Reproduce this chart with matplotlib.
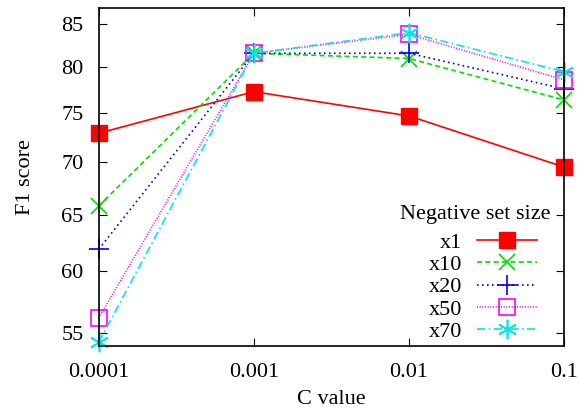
import numpy as np
import matplotlib.pyplot as plt

plt.rcParams['font.family'] = ['Liberation Serif', 'DejaVu Serif']

# data
c_values = [0.0001, 0.001, 0.01, 0.1]
x1 = [72.9, 77.3, 74.7, 69.5]
x10 = [65.8, 81.6, 81.0, 76.4]
x20 = [61.9, 81.6, 81.6, 77.6]
x50 = [56.2, 81.6, 83.8, 78.6]
x70 = [54.3, 81.6, 84.0, 79.5]
series_labels = ['x1', 'x10', 'x20', 'x50', 'x70']
y_ticks = [55, 60, 65, 70, 75, 80, 85]
x_ticks = [0.0001, 0.001, 0.01, 0.1]
x_tick_labels = ['0.0001', '0.001', '0.01', '0.1']

fig = plt.figure(figsize=(5.81, 4.12), dpi=100)
ax = fig.add_axes([0.170, 0.160, 0.801, 0.821])

styles = [
    dict(color='#ff0000', ls='-', marker='s', mfc='#ff0000', ms=12),
    dict(color='#00dd00', ls=(0, (3, 2)), marker='x', ms=12, mew=1.2),
    dict(color='#0000ff', ls=(0, (1, 2)), marker='+', ms=14, mew=1.2),
    dict(color='#ff00ff', ls=(0, (0.6, 1)), marker='s', mfc='none', ms=12, mew=1.2),
    dict(color='#00e5ee', ls=(0, (5, 2, 1, 2)), marker=(6, 2, 0), ms=14, mew=1.2),
]
for vals, lab, st in zip([x1, x10, x20, x50, x70], series_labels, styles):
    ax.plot(c_values, vals, label=lab, lw=1.2, clip_on=False, **st)

ax.set_xscale('log')
ax.set_yscale('log')
ax.set_xlim(0.0001, 0.1)
ax.set_ylim(54, 87)
ax.set_xticks(x_ticks)
ax.set_xticklabels(x_tick_labels)
ax.set_yticks(y_ticks)
ax.set_yticklabels([str(v) for v in y_ticks])
ax.minorticks_off()
ax.tick_params(direction='in', top=True, right=True, labelsize=16, length=6)
ax.tick_params(axis='x', pad=12)
ax.tick_params(axis='y', pad=11)
for s in ax.spines.values():
    s.set_linewidth(1.2)

ax.set_xlabel('C value', fontsize=16, labelpad=6)
ax.set_ylabel('F1 score', fontsize=16, labelpad=19)

leg = ax.legend(loc='lower right', bbox_to_anchor=(537 / 581, 1 - 342 / 412),
                bbox_transform=fig.transFigure, frameon=False, markerfirst=False,
                fontsize=16, handlelength=2.7, handletextpad=0.68,
                labelspacing=0.08, borderaxespad=0, borderpad=0)
fig.text(550 / 581, 1 - 215 / 412, 'Negative set size', fontsize=16,
         ha='right', va='center')

fig.savefig('out.png', dpi=100)
